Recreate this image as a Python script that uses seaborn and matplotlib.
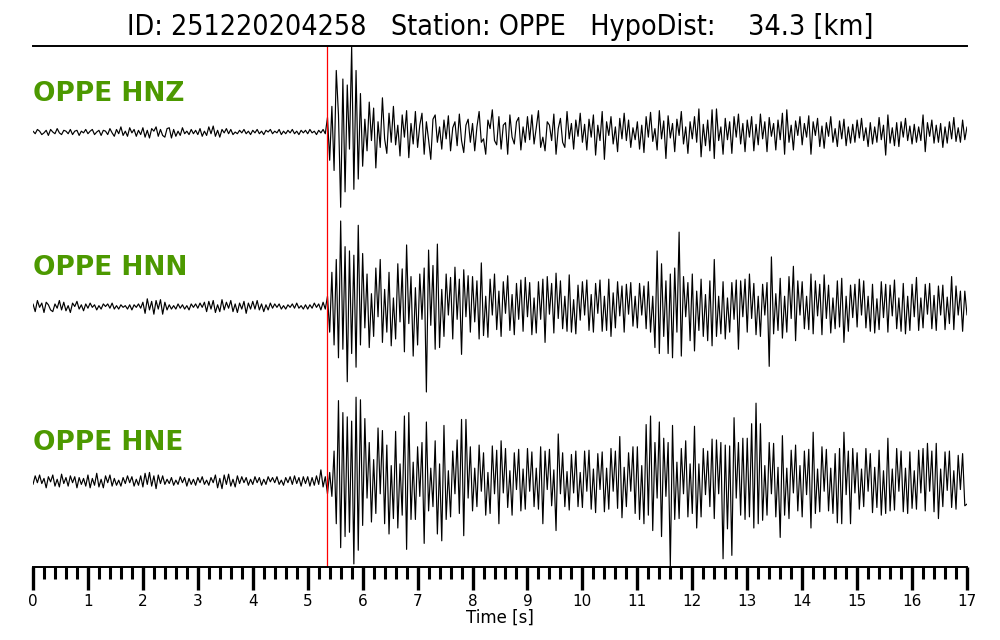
import numpy as np
import pandas as pd
import matplotlib
matplotlib.use("Agg")
import matplotlib.pyplot as plt
from matplotlib import font_manager as fm
import seaborn as sns

event_id = "251220204258"
station = "OPPE"
hypo_dist_km = 34.3
channels = ["HNZ", "HNN", "HNE"]
sample_interval_s = 0.04
p_pick_s = 5.35
tick_labels = [str(i) for i in range(18)]

# waveform samples (relative counts), one row per second
hnz = [
    1,-2,3,1,-3,-1,2,-4,3,0,-2,4,-1,-3,2,1,-2,3,-3,1,2,-4,1,-1,3,
    -2,1,3,-3,0,2,-4,2,1,-3,4,-1,-5,3,-2,6,-4,1,-5,5,-1,3,-5,2,-3,
    5,-6,2,-7,4,1,6,-5,3,-4,-6,4,5,-7,3,-5,1,-4,5,-2,1,-3,3,-2,2,
    -3,4,-5,1,-4,6,-2,7,-5,2,-6,3,-1,4,-2,3,-3,0,-2,2,-1,3,-2,1,-3,
    2,-1,3,-2,1,-3,2,0,3,-2,1,-1,3,-3,1,-2,2,-1,3,-2,1,-3,2,-1,2,
    -2,3,-1,1,-3,2,-1,3,-2,17,-33,30,-45,72,20,-88,62,-70,55,-20,100,-67,72,-55,45,
    -40,15,-22,35,-10,28,-42,12,-18,40,-8,-25,22,-12,30,-15,8,-28,20,-6,25,-30,10,-14,24,
    -18,8,22,-26,12,-9,-32,15,20,-12,6,-20,14,-8,19,-22,5,12,-16,21,-10,-24,8,15,-12,
    10,-22,6,24,-12,-8,-26,14,4,26,-10,-15,18,-20,8,11,-26,20,-6,-14,12,17,-21,6,-12,
    18,-9,20,-14,5,25,-18,-6,-22,12,8,-10,21,-26,4,16,-12,-18,24,-8,10,-20,14,-5,22,
    -12,9,-21,15,-6,20,-27,8,-10,24,-32,12,-4,18,-14,6,-23,16,-8,22,-10,14,-18,5,-9,
    12,-20,8,-24,18,-6,23,-11,4,-21,25,-8,13,-31,19,-7,10,-23,15,-4,24,-14,6,-25,12,
    -8,18,-12,27,-29,9,-16,14,-22,26,-31,27,-10,6,-26,16,-9,12,-25,18,-6,21,-14,10,-23,
    14,-6,18,-22,9,-15,21,-8,12,-23,17,-5,10,-21,14,-9,22,-26,26,-12,8,-21,13,-4,18,
    -15,10,-6,19,-26,12,-4,16,-17,7,-19,11,-5,18,-12,4,-17,13,-8,15,-16,6,-13,9,-12,
    14,-7,16,-10,5,-17,11,-14,6,-12,17,-9,8,-27,20,-13,5,-16,11,-17,12,-6,16,-10,7,
    -14,9,-12,6,-10,20,-23,11,-5,14,-13,8,-12,10,-18,6,-13,12,-8,17,-11,5,-12,14,-9,
    6,
]
hnn = [
    3,-6,7,-1,4,-7,5,2,-4,-6,3,-2,7,-4,5,-5,1,-7,4,0,6,-3,2,-5,3,
    -2,4,-1,2,-4,1,-3,3,0,3,-2,4,-3,1,-3,2,-1,1,-3,2,-4,2,-1,3,-2,
    5,-8,9,-4,6,-9,7,-3,8,-9,5,-4,2,-3,1,-3,3,-2,2,-3,1,-4,3,-1,3,
    -2,4,-1,5,-6,6,-3,7,-7,2,-6,8,-4,5,-2,7,-6,3,-7,4,-3,6,-8,4,-3,
    6,-3,7,-4,3,-6,2,-4,4,-2,3,-1,3,-3,1,-3,2,-1,3,-2,4,-2,1,-3,2,
    -3,2,-2,4,-1,3,-4,5,-3,12,-30,40,-45,55,-60,100,-50,70,-88,65,-55,60,-71,95,-45,
    62,-25,38,-48,15,-35,45,-12,55,-42,20,-30,40,-46,10,-38,50,-18,44,-53,72,-20,35,-58,22,
    -45,38,-15,45,-100,66,-22,48,-50,73,-48,20,-35,38,-10,34,-38,46,-15,32,-56,43,-12,36,-30,
    35,-18,30,-38,51,-34,12,-36,32,-10,38,-27,18,-35,29,-8,36,-28,14,-33,27,-15,31,-29,34,
    -12,28,-33,10,-31,29,-15,32,-42,35,-9,27,-31,39,-14,30,-26,12,-29,37,-30,8,-32,25,-16,
    29,-10,31,-28,14,-30,27,-8,31,-29,12,-28,32,-35,16,-25,29,-11,24,-30,26,-9,28,-23,12,
    -25,27,-10,24,-26,29,-30,12,-48,65,-55,50,-35,30,-55,38,-60,45,-30,87,-58,35,-12,28,-40,
    38,-52,18,-28,32,-35,14,-40,30,-46,55,-35,12,-32,29,-38,10,-30,28,-15,31,-50,30,-12,32,
    -30,38,-14,27,-33,12,-35,26,-10,28,-70,58,-32,15,-28,33,-37,12,-30,35,-14,47,-40,30,-10,
    29,-26,12,-27,38,-32,30,-11,26,-33,37,-14,25,-31,10,-26,30,-24,33,-42,12,-29,25,-13,26,
    -24,32,-10,30,-25,12,-29,26,-31,9,-27,29,-13,26,-30,25,-11,31,-26,10,-29,27,-32,12,-28,
    26,-12,34,-28,10,-25,26,-9,27,-26,13,-28,24,-10,25,-27,11,-20,35,-27,24,-10,18,-29,18,
    -10,
]
hne = [
    -4,6,-2,7,-3,3,-8,5,-1,7,-6,2,-7,8,-3,4,-6,6,-2,5,-8,4,-4,3,-6,
    7,-8,3,-5,9,-7,2,-8,6,-2,7,-6,3,-5,1,-6,4,-3,6,-2,5,-6,2,-5,6,
    -7,9,-4,10,-6,6,-9,7,-3,6,-4,2,-3,4,-5,1,-4,5,-2,4,-6,3,-4,2,-5,
    4,-2,5,-4,1,-5,4,-2,7,-8,3,-9,7,-4,8,-6,2,-7,6,-3,5,-2,4,-5,2,
    -4,5,-2,4,-5,2,-4,5,-1,4,-2,5,-4,1,-5,4,-2,5,-4,6,-3,4,-6,5,-3,
    5,-6,4,-5,6,-4,13,-7,5,-15,10,-18,35,-50,94,-78,80,-65,75,-60,70,-97,98,-81,95,
    -52,73,-20,45,-48,25,-38,62,-15,59,-50,42,-62,18,-44,58,-55,20,-40,76,-80,80,-45,22,-45,
    40,-18,45,-73,69,-35,15,-30,47,-62,20,-70,65,-45,12,-42,35,-15,48,-38,72,-64,72,-20,40,
    -35,15,-30,42,-12,33,-40,10,-38,41,-15,36,-50,47,-14,38,-31,12,-40,33,-10,37,-35,14,-33,
    38,-12,34,-30,15,-33,40,-50,35,-10,37,-29,13,-58,55,-15,33,-30,11,-34,31,-14,35,-30,10,
    -31,35,-12,36,-33,14,-37,32,-10,34,-36,15,-33,38,-12,35,-32,52,-43,16,-30,33,-12,40,-38,
    40,-45,18,-50,66,-40,76,-58,45,-20,69,-65,50,-18,45,-100,65,-45,22,-44,38,-15,47,-42,20,
    -38,64,-55,20,-42,38,-16,35,-30,49,-44,48,-15,45,-91,42,-56,41,-87,74,-20,45,-40,50,-45,
    50,-42,67,-55,91,-50,67,-46,18,-40,45,-15,44,-42,16,-66,53,-40,15,-44,36,-14,42,-35,18,
    -42,35,-16,37,-55,57,-38,14,-36,40,-12,37,-35,15,-38,32,-49,38,-50,57,-16,35,-50,38,-14,
    33,-33,14,-30,38,-12,32,-37,16,-31,36,-40,12,-38,50,-35,14,-34,38,-12,35,-36,15,-38,34,
    -32,12,-33,36,-14,38,-35,44,-12,35,-36,44,-44,14,-30,34,-11,35,-31,12,-33,30,-10,32,-29,
    -27,
]

sns.set_style("white")
plt.rcParams["font.family"] = ["DejaVu Sans"]
plt.rcParams["text.color"] = "black"
plt.rcParams["axes.labelcolor"] = "black"
plt.rcParams["xtick.color"] = "black"

# condensed face for the title if available
title_fp = None
for f in fm.fontManager.ttflist:
    if "dejavusanscondensed.ttf" in f.fname.lower():
        title_fp = fm.FontProperties(fname=f.fname)
        break
if title_fp is None:
    for f in fm.fontManager.ttflist:
        if "liberationsansnarrow-regular" in f.fname.lower():
            title_fp = fm.FontProperties(fname=f.fname)
            break
if title_fp is None:
    title_fp = fm.FontProperties(family="DejaVu Sans")
title_fp.set_size(20.5)

fig = plt.figure(figsize=(10, 6.4), dpi=100)
ax = fig.add_axes([0.033, 1 - 567 / 640, 0.934, (567 - 46) / 640])

traces = {"HNZ": hnz, "HNN": hnn, "HNE": hne}
offsets = {"HNZ": 2, "HNN": 1, "HNE": 0}
for ch in channels:
    v = np.asarray(traces[ch], dtype=float)
    t = np.arange(len(v)) * sample_interval_s
    df = pd.DataFrame({"t": t, "y": v / np.abs(v).max() * 0.49 + offsets[ch]})
    sns.lineplot(data=df, x="t", y="y", ax=ax, color="black", linewidth=0.85,
                 sort=False, estimator=None)
    ax.text(0.0, offsets[ch] + 0.18, f"{station} {ch}", color="#4c9900",
            fontsize=19, fontweight="bold", ha="left", va="baseline")

ax.axvline(p_pick_s, color="red", linewidth=0.9)

ax.set_xlim(0, 17)
ax.set_ylim(-0.493, 2.493)
ax.set_xticks(range(18))
ax.set_xticklabels(tick_labels, fontsize=11)
ax.set_xticks(np.arange(0, 17.01, 0.2), minor=True)
ax.tick_params(axis="x", which="both", bottom=True, top=False, direction="out",
               color="black")
ax.tick_params(axis="x", which="major", length=16.5, width=2.4, pad=3)
ax.tick_params(axis="x", which="minor", length=8.5, width=2.2)
ax.set_yticks([])
ax.set_ylabel("")
ax.set_xlabel("Time [s]", fontsize=12, labelpad=0)
for side in ["left", "right"]:
    ax.spines[side].set_visible(False)
for side in ["top", "bottom"]:
    ax.spines[side].set_visible(True)
    ax.spines[side].set_linewidth(1.4)
    ax.spines[side].set_color("black")

fig.text(0.5, 1 - 27 / 640,
         f"ID: {event_id}   Station: {station}   HypoDist:    {hypo_dist_km} [km]",
         ha="center", va="center", fontproperties=title_fp)

fig.savefig("out.png", dpi=100, facecolor="white")
